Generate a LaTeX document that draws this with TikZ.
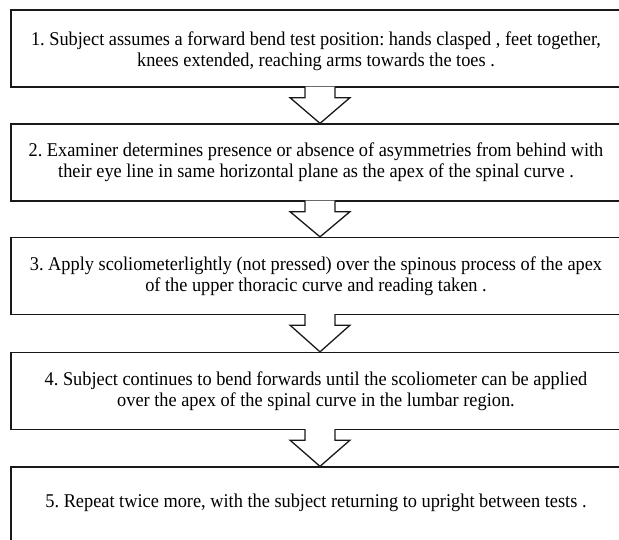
\documentclass[tikz,border=0pt]{standalone}
\usepackage{fontspec}
\setmainfont{Liberation Serif}[FakeStretch=0.94]
\usetikzlibrary{calc}
\newcommand\liftline[2]{\raisebox{#1}[\height][\depth]{#2}}
\begin{document}
\frenchspacing
\begin{tikzpicture}[x=1pt,y=-1pt,
  stepbox/.style={draw=black!90, line width=1.3pt, fill=white, minimum width=610pt,
    minimum height=77pt, align=center, inner sep=0pt,
    font=\fontsize{19.5}{21}\selectfont},
  blockarrow/.style={draw=black!90, line width=1.3pt, fill=white, line join=miter}]
\useasboundingbox (0,0) rectangle (619,539);
\clip (0,0) rectangle (619,539);
\node[stepbox] (b1) at (316,48.5) {\liftline{-3pt}{1. Subject assumes a forward bend test position: hands clasped , feet together,}\\\liftline{-3pt}{knees extended, reaching arms towards the toes .}};
\node[stepbox] (b2) at (316,162.5) {2. Examiner determines presence or absence of asymmetries from behind with\\their eye line in same horizontal plane as the apex of the spinal curve .};
\node[stepbox] (b3) at (316,276) {3. Apply scoliometerlightly (not pressed) over the spinous process of the apex\\of the upper thoracic curve and reading taken .};
\node[stepbox] (b4) at (316,391) {4. Subject continues to bend forwards until the scoliometer can be applied\\over the apex of the spinal curve in the lumbar region.};
\node[stepbox] (b5) at (316,505.5) {\liftline{3pt}{5. Repeat twice more, with the subject returning to upright between tests .}};
\foreach \a/\b in {b1/b2,b2/b3,b3/b4,b4/b5}{
  \draw[blockarrow] ($(\a.south)+(-11,-1)$) -- ($(\a.south)+(-11,10)$) -- ($(\a.south)+(-26,10)$)
    -- ($(\b.north)+(4,0)$) -- ($(\a.south)+(34,10)$) -- ($(\a.south)+(19,10)$) -- ($(\a.south)+(19,-1)$);
}
\end{tikzpicture}
\end{document}
